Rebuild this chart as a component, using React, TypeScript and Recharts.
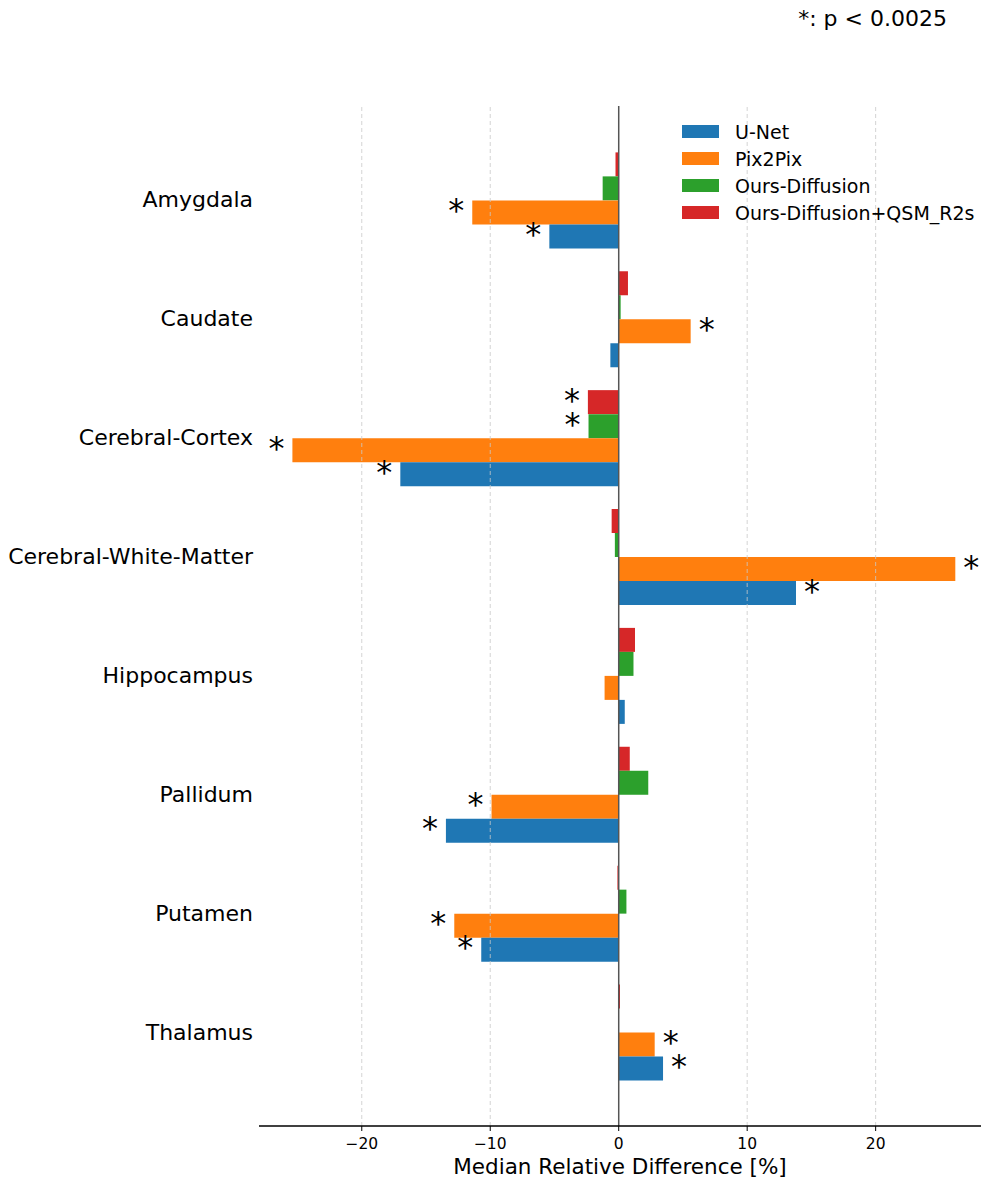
import React from "react";
import {
  BarChart,
  Bar,
  XAxis,
  YAxis,
  Legend,
  LabelList,
  ReferenceLine,
} from "recharts";

const regions = [
  "Amygdala",
  "Caudate",
  "Cerebral-Cortex",
  "Cerebral-White-Matter",
  "Hippocampus",
  "Pallidum",
  "Putamen",
  "Thalamus",
];

// median relative difference [%] per region
const unet = [-5.4, -0.65, -17.0, 13.8, 0.47, -13.45, -10.7, 3.45];
const pix2pix = [-11.4, 5.6, -25.4, 26.2, -1.1, -9.9, -12.8, 2.8];
const oursDiffusion = [-1.25, 0.15, -2.35, -0.3, 1.15, 2.3, 0.6, 0.0];
const oursDiffusionQsm = [-0.25, 0.72, -2.4, -0.55, 1.27, 0.86, -0.1, 0.1];

// p < 0.0025 flags
const unetSig = [1, 0, 1, 1, 0, 1, 1, 1];
const pix2pixSig = [1, 1, 1, 1, 0, 1, 1, 1];
const oursDiffusionSig = [0, 0, 1, 0, 0, 0, 0, 0];
const oursDiffusionQsmSig = [0, 0, 1, 0, 0, 0, 0, 0];

const xTicks = [-20, -10, 0, 10, 20];
const gridTicks = [-20, -10, 10, 20];

const series = [
  { key: "unet", name: "U-Net", color: "#1f77b4" },
  { key: "pix2pix", name: "Pix2Pix", color: "#ff7f0e" },
  { key: "diff", name: "Ours-Diffusion", color: "#2ca02c" },
  { key: "diffQsm", name: "Ours-Diffusion+QSM_R2s", color: "#d62728" },
];

const data = regions.map((region, i) => ({
  region,
  unet: unet[i],
  pix2pix: pix2pix[i],
  diff: oursDiffusion[i],
  diffQsm: oursDiffusionQsm[i],
}));

const FONT = "'DejaVu Sans', sans-serif";

const starLabel = (values: number[], sig: number[]) => (props: any) => {
  const { index } = props;
  const vb = props.viewBox ?? props;
  if (index == null || !sig[index]) return null;
  const x0 = vb.x;
  const x1 = vb.x + vb.width;
  const neg = values[index] < 0;
  const end = neg ? Math.min(x0, x1) : Math.max(x0, x1);
  const cx = neg ? end - 16 : end + 16;
  const cy = vb.y + vb.height / 2;
  return (
    <text
      x={cx}
      y={cy + 8.5}
      textAnchor="middle"
      fontSize={32}
      fontFamily={FONT}
      fill="#000"
    >
      *
    </text>
  );
};

const YTick = (props: any) => {
  const { x, y, payload } = props;
  return (
    <text
      x={x}
      y={y}
      textAnchor="end"
      dominantBaseline="central"
      fontSize={22}
      fontFamily={FONT}
      fill="#000"
    >
      {payload.value}
    </text>
  );
};

const XTick = (props: any) => {
  const { x, y, payload } = props;
  const v = payload.value;
  const label = v < 0 ? "\u2212" + Math.abs(v) : String(v);
  return (
    <text
      x={x}
      y={y}
      dy={16}
      textAnchor="middle"
      fontSize={15.5}
      fontFamily={FONT}
      fill="#000"
    >
      {label}
    </text>
  );
};

const LegendBox = () => (
  <div style={{ fontFamily: FONT, fontSize: 19, color: "#000" }}>
    {series.map((s) => (
      <div
        key={s.key}
        style={{ display: "flex", alignItems: "center", height: 27 }}
      >
        <div
          style={{ width: 37, height: 13, background: s.color, marginRight: 16 }}
        />
        <span style={{ whiteSpace: "nowrap" }}>{s.name}</span>
      </div>
    ))}
  </div>
);

const App = () => {
  const sigByKey: Record<string, number[]> = {
    unet: unetSig,
    pix2pix: pix2pixSig,
    diff: oursDiffusionSig,
    diffQsm: oursDiffusionQsmSig,
  };
  const valsByKey: Record<string, number[]> = {
    unet,
    pix2pix,
    diff: oursDiffusion,
    diffQsm: oursDiffusionQsm,
  };
  // bars are stacked top->bottom in declaration order: red, green, orange, blue
  const barOrder = [...series].reverse();

  return (
    <div
      style={{
        position: "absolute",
        left: 0,
        top: 0,
        width: 981,
        height: 1183,
        background: "#fff",
        fontFamily: FONT,
      }}
    >
      <svg
        width={981}
        height={40}
        style={{ position: "absolute", left: 0, top: 0 }}
      >
        <text
          x={947}
          y={26}
          textAnchor="end"
          fontSize={22}
          fontFamily={FONT}
          fill="#000"
        >
          *: p &lt; 0.0025
        </text>
      </svg>
      <BarChart
        width={981}
        height={1183}
        data={data}
        layout="vertical"
        margin={{ top: 106, right: 0, bottom: 0, left: 0 }}
        barCategoryGap="10%"
        barGap={0}
      >
        <XAxis
          type="number"
          domain={[-28, 28.2]}
          ticks={xTicks}
          height={57}
          tick={<XTick />}
          tickSize={5}
          tickMargin={2}
          axisLine={{ stroke: "#000", strokeWidth: 1.3 }}
          tickLine={{ stroke: "#000", strokeWidth: 1 }}
          allowDataOverflow
          label={{
            value: "Median Relative Difference [%]",
            position: "insideBottom",
            offset: 9,
            fontSize: 21.5,
            fontFamily: FONT,
            fill: "#000",
          }}
        />
        <YAxis
          type="category"
          dataKey="region"
          width={259}
          axisLine={false}
          tickLine={false}
          tickSize={0}
          tickMargin={6}
          tick={<YTick />}
          interval={0}
          padding={{ top: 34.5, bottom: 34.5 }}
        />
        {barOrder.map((s) => (
          <Bar
            key={s.key}
            dataKey={s.key}
            name={s.name}
            fill={s.color}
            isAnimationActive={false}
          >
            <LabelList
              dataKey={s.key}
              content={starLabel(valsByKey[s.key], sigByKey[s.key])}
            />
          </Bar>
        ))}
        {gridTicks.map((t) => (
          <ReferenceLine
            key={t}
            x={t}
            stroke="#c8c8c8"
            strokeOpacity={0.8}
            strokeWidth={1}
            strokeDasharray="4 3"
          />
        ))}
        <ReferenceLine x={0} stroke="#555" strokeWidth={1.5} />
        <Legend
          layout="horizontal"
          verticalAlign="middle"
          align="center"
          content={<LegendBox />}
          wrapperStyle={{ position: "absolute", left: 682, top: 118, width: 299 }}
        />
      </BarChart>
    </div>
  );
};

export default App;
